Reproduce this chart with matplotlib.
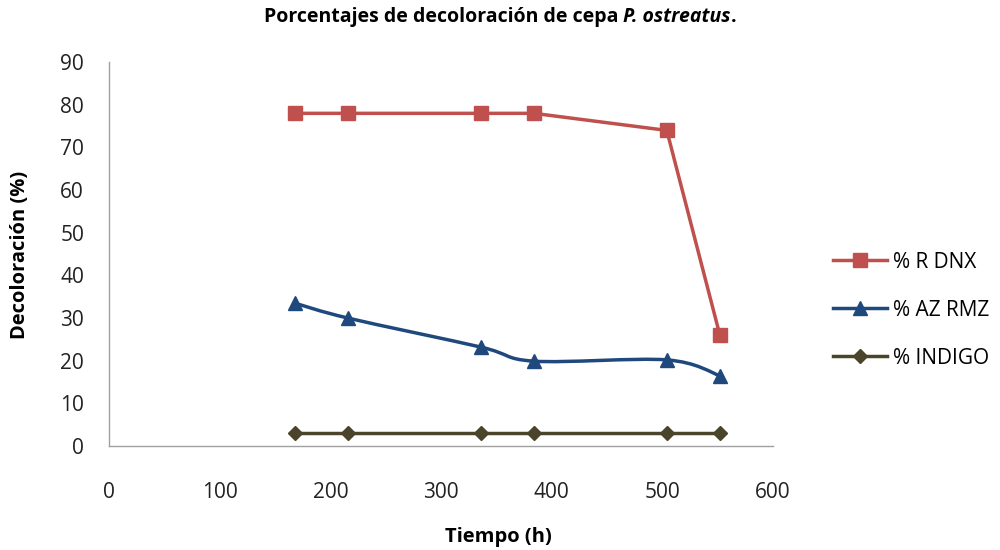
import numpy as np
import matplotlib
matplotlib.use("Agg")
import matplotlib.pyplot as plt
from matplotlib.path import Path
from matplotlib.patches import PathPatch
from matplotlib.lines import Line2D

# Data
tiempo = [168, 216, 336, 384, 504, 552]
r_dnx = [78, 78, 78, 78, 74, 26]
az_rmz = [33.5, 30, 23.2, 19.9, 20.2, 16.5]
indigo = [3, 3, 3, 3, 3, 3]

plt.rcParams['font.family'] = ['Open Sans', 'DejaVu Sans']

c_red = "#C0504D"
c_blue = "#1F497D"
c_brown = "#4A452A"


def smooth_path(x, y):
    # Catmull-Rom style bezier segments, like Excel's smoothed line
    pts = np.column_stack([x, y]).astype(float)
    n = len(pts)
    verts = [pts[0]]
    codes = [Path.MOVETO]
    for i in range(n - 1):
        p0 = pts[i - 1] if i > 0 else pts[i]
        p1 = pts[i]
        p2 = pts[i + 1]
        p3 = pts[i + 2] if i + 2 < n else pts[i + 1]
        c1 = p1 + (p2 - p0) / 6.0
        c2 = p2 - (p3 - p1) / 6.0
        verts += [c1, c2, p2]
        codes += [Path.CURVE4] * 3
    return Path(verts, codes)


fig = plt.figure(figsize=(10, 5.5), dpi=100)
ax = fig.add_axes([0.109, 0.189, 0.664, 0.698])

ax.plot(tiempo, r_dnx, color=c_red, lw=2.5, marker="s", ms=10)
ax.add_patch(PathPatch(smooth_path(tiempo, az_rmz), facecolor="none",
                       edgecolor=c_blue, lw=2.5))
ax.plot(tiempo, az_rmz, ls="none", color=c_blue, marker="^", ms=10)
ax.plot(tiempo, indigo, color=c_brown, lw=2.5, marker="D", ms=7)

ax.set_xlim(0, 600)
ax.set_ylim(0, 90)
ax.set_xticks(range(0, 601, 100))
ax.set_yticks(range(0, 91, 10))
ax.tick_params(length=0, labelsize=15, colors="#222222")
ax.tick_params(axis="y", pad=18)
ax.tick_params(axis="x", pad=26)
for s in ["top", "right"]:
    ax.spines[s].set_visible(False)
for s in ["left", "bottom"]:
    ax.spines[s].set_color("#A0A0A0")
    ax.spines[s].set_linewidth(1)

fig.text(0.498, 0.023, "Tiempo (h)", fontsize=14.5, fontweight="bold",
         ha="center", va="center")
fig.text(0.02, 0.536, "Decoloración (%)", fontsize=14.5, fontweight="bold",
         ha="center", va="center", rotation=90)

# title with italic species name, built from pieces and centred
renderer = fig.canvas.get_renderer()
pieces = [("Porcentajes de decoloración de cepa ", "normal"),
          ("P. ostreatus", "italic"),
          (".", "normal")]
texts = []
x = 0.0
for s, style in pieces:
    t = fig.text(x, 1 - 17 / 550, s, fontsize=14, fontweight="bold",
                 fontstyle=style, ha="left", va="center")
    w = t.get_window_extent(renderer).width / fig.bbox.width
    texts.append((t, x))
    x += w
start = 0.5 - x / 2
for t, off in texts:
    t.set_x(start + off)

handles = [
    Line2D([], [], color=c_red, lw=2.5, marker="s", ms=10),
    Line2D([], [], color=c_blue, lw=2.5, marker="^", ms=10),
    Line2D([], [], color=c_brown, lw=2.5, marker="D", ms=7),
]
fig.legend(handles, ["% R DNX", "% AZ RMZ", "% INDIGO"], loc="center left",
           bbox_to_anchor=(0.814, 0.436), frameon=False, fontsize=15,
           handlelength=2.6, handletextpad=0.3, labelspacing=1.3)

fig.savefig("out.png", dpi=100)
